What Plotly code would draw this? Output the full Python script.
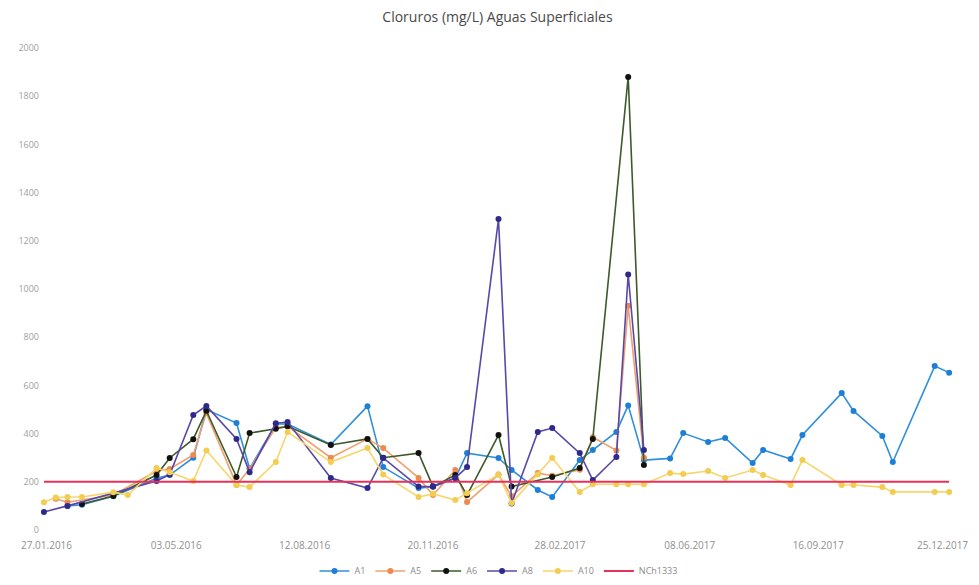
import plotly.graph_objects as go

# ---------------- data ----------------
a1_dates = ["2016-02-15", "2016-02-26", "2016-03-21", "2016-04-23", "2016-05-03", "2016-05-21",
            "2016-05-31", "2016-06-23", "2016-07-03", "2016-07-23", "2016-08-01", "2016-09-03",
            "2016-10-01", "2016-10-13", "2016-11-09", "2016-11-20", "2016-12-07", "2016-12-16",
            "2017-01-09", "2017-01-19", "2017-02-08", "2017-02-19", "2017-03-12", "2017-03-22",
            "2017-04-09", "2017-04-18", "2017-04-30", "2017-05-20", "2017-05-30", "2017-06-18",
            "2017-07-01", "2017-07-22", "2017-07-30", "2017-08-20", "2017-08-29", "2017-09-28",
            "2017-10-07", "2017-10-29", "2017-11-06", "2017-12-08", "2017-12-19"]
a1_vals = [100, 105, 140, 215, 228, 300,
           500, 444, 255, 440, 440, 355,
           514, 261, 174, 180, 215, 319,
           299, 249, 166, 137, 290, 332,
           407, 517, 290, 297, 402, 365,
           382, 278, 332, 295, 394, 568,
           494, 390, 282, 680, 653]

a5_dates = ["2016-02-06", "2016-02-15", "2016-03-21", "2016-04-23", "2016-05-03", "2016-05-21",
            "2016-05-31", "2016-06-23", "2016-07-03", "2016-07-23", "2016-08-01", "2016-09-03",
            "2016-10-01", "2016-10-13", "2016-11-09", "2016-11-20", "2016-12-07", "2016-12-16",
            "2017-01-09", "2017-01-19", "2017-02-08", "2017-02-19", "2017-03-12", "2017-03-22",
            "2017-04-09", "2017-04-18", "2017-04-30"]
a5_vals = [130, 115, 145, 245, 253, 311,
           485, 187, 253, 425, 430, 300,
           378, 340, 216, 145, 249, 116,
           230, 140, 236, 225, 250, 385,
           330, 930, 300]

a6_dates = ["2016-02-26", "2016-03-21", "2016-04-23", "2016-05-03", "2016-05-21", "2016-05-31",
            "2016-06-23", "2016-07-03", "2016-07-23", "2016-08-01", "2016-09-03", "2016-10-01",
            "2016-10-13", "2016-11-09", "2016-11-20", "2016-12-07", "2016-12-16", "2017-01-09",
            "2017-01-19", "2017-02-19", "2017-03-12", "2017-03-22", "2017-04-18", "2017-04-30"]
a6_vals = [108, 141, 228, 299, 377, 495,
           220, 402, 420, 430, 353, 378,
           300, 319, 180, 228, 145, 394,
           180, 220, 257, 378, 1880, 270]

a8_dates = ["2016-01-28", "2016-02-15", "2016-04-23", "2016-05-03", "2016-05-21", "2016-05-31",
            "2016-06-23", "2016-07-03", "2016-07-23", "2016-08-01", "2016-09-03", "2016-10-01",
            "2016-10-13", "2016-11-09", "2016-11-20", "2016-12-07", "2016-12-16", "2017-01-09",
            "2017-01-19", "2017-02-08", "2017-02-19", "2017-03-12", "2017-03-22", "2017-04-09",
            "2017-04-18", "2017-04-30"]
a8_vals = [75, 100, 203, 230, 477, 515,
           378, 240, 443, 448, 216, 174,
           299, 180, 180, 216, 261, 1290,
           110, 407, 423, 319, 207, 303,
           1060, 332]

a10_dates = ["2016-01-28", "2016-02-06", "2016-02-15", "2016-02-26", "2016-03-21", "2016-04-01",
             "2016-04-23", "2016-05-03", "2016-05-21", "2016-05-31", "2016-06-23", "2016-07-03",
             "2016-07-23", "2016-08-01", "2016-09-03", "2016-10-01", "2016-10-13", "2016-11-09",
             "2016-11-20", "2016-12-07", "2016-12-16", "2017-01-09", "2017-01-19", "2017-02-08",
             "2017-02-19", "2017-03-12", "2017-03-22", "2017-04-09", "2017-04-18", "2017-04-30",
             "2017-05-20", "2017-05-30", "2017-06-18", "2017-07-01", "2017-07-22", "2017-07-30",
             "2017-08-20", "2017-08-29", "2017-09-28", "2017-10-07", "2017-10-29", "2017-11-06",
             "2017-12-08", "2017-12-19"]
a10_vals = [115, 135, 137, 137, 157, 145,
            257, 240, 203, 330, 187, 178,
            282, 407, 282, 340, 230, 137,
            150, 124, 153, 230, 112, 230,
            299, 158, 190, 190, 190, 190,
            236, 232, 245, 216, 249, 228,
            187, 290, 187, 187, 178, 158,
            158, 158]

nch_dates = ["2016-01-28", "2017-12-19"]
nch_vals = [200, 200]

tick_dates = ["2016-01-30", "2016-05-08", "2016-08-14", "2016-11-20",
              "2017-02-25", "2017-06-04", "2017-09-10", "2017-12-14"]
tick_labels = ["27.01.2016", "03.05.2016", "12.08.2016", "20.11.2016",
               "28.02.2017", "08.06.2017", "16.09.2017", "25.12.2017"]
y_ticks = [0, 200, 400, 600, 800, 1000, 1200, 1400, 1600, 1800, 2000]

# ---------------- figure ----------------
fig = go.Figure()

def add(name, xs, ys, line_color, marker_color):
    fig.add_trace(go.Scatter(
        x=xs, y=ys, name=name, mode="lines+markers",
        line=dict(color=line_color, width=1.6),
        marker=dict(color=marker_color, size=6, symbol="circle"),
    ))

add("A1", a1_dates, a1_vals, "#2f8fdc", "#1f7fd6")
add("A5", a5_dates, a5_vals, "#f0a070", "#ee8a4e")
add("A6", a6_dates, a6_vals, "#3d5a2a", "#111111")
add("A8", a8_dates, a8_vals, "#5a48a8", "#2e2a8c")
add("A10", a10_dates, a10_vals, "#f6d66a", "#f3cc52")
fig.add_trace(go.Scatter(
    x=nch_dates, y=nch_vals, name="NCh1333", mode="lines",
    line=dict(color="#e8305a", width=2),
))

fig.update_layout(
    width=979, height=585,
    paper_bgcolor="white", plot_bgcolor="white",
    margin=dict(l=32, r=30, t=40, b=63, autoexpand=False),
    title=dict(text="Cloruros (mg/L) Aguas Superficiales", x=0.5, xanchor="center",
               y=0.993, yanchor="top",
               font=dict(family="Open Sans, Arial, sans-serif", size=14, color="#4a4a4a")),
    font=dict(family="Open Sans, Arial, sans-serif", color="#8a8a8a"),
    showlegend=True,
    legend=dict(orientation="h", x=0.5, xanchor="center", y=-0.085, yanchor="middle",
                font=dict(size=9, color="#8a8a8a"), itemwidth=30, tracegroupgap=0),
)
fig.update_xaxes(
    type="date", range=["2016-01-25", "2017-12-25"],
    tickvals=tick_dates, ticktext=tick_labels, automargin=False,
    tickfont=dict(size=10, color="#909090"), showgrid=False, zeroline=False,
    showline=False, ticks="", ticklabelstandoff=8,
)
fig.update_yaxes(
    range=[0, 2000], tickvals=y_ticks, ticktext=[str(v) for v in y_ticks],
    tickfont=dict(size=9, color="#a0a0a0"), showgrid=False, zeroline=False,
    showline=False, ticks="", automargin=False,
)

fig.write_html("out.html")
